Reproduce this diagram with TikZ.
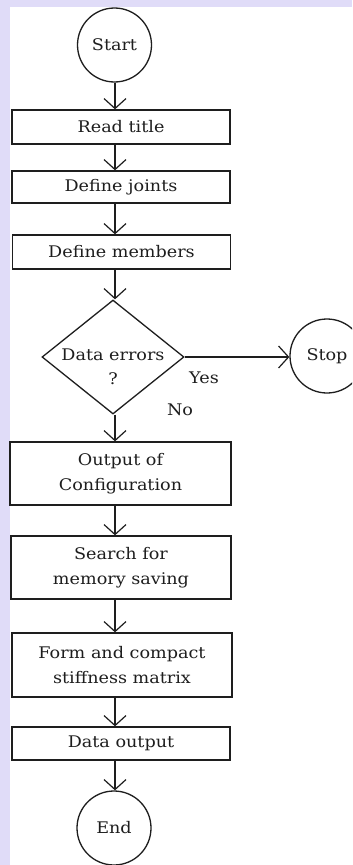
\documentclass[tikz,border=0pt]{standalone}
\usepackage{fontspec}
\setmainfont{DejaVu Serif}[FakeStretch=1.1]
\usetikzlibrary{shapes.geometric,arrows.meta}
\definecolor{bgl}{RGB}{224,220,248}
\definecolor{ink}{RGB}{30,30,30}
\newcommand\flowfont{\fontsize{16bp}{24.5bp}\selectfont}
\begin{document}
\begin{tikzpicture}[x=1bp,y=-1bp,
  box/.style={draw=ink,line width=1.3bp,fill=white,minimum width=218bp,inner sep=0pt,align=center,font=\flowfont,text=ink},
  circ/.style={draw=ink,line width=1.3bp,circle,minimum size=74bp,inner sep=0pt,font=\flowfont,text=ink},
  lbl/.style={font=\flowfont,text=ink,inner sep=0pt,align=center},
  arr/.style={draw=ink,line width=1.3bp,-{Straight Barb[length=10bp,width=22bp,line width=1.2bp]}},
  ln/.style={draw=ink,line width=1.3bp}
 ]
\useasboundingbox (0,0) rectangle (352,865);
\clip (0,0) rectangle (352,865);
\fill[bgl] (0,0) rectangle (352,865);
\fill[white] (10,7) rectangle (352,865);
\coordinate (ax) at (115,0);
\node[circ] (start) at (114.5,45) {Start};
\node[box,minimum height=34bp] (read) at (121,127) {Read title};
\node[box,minimum height=32bp] (joints) at (121,187) {Define joints};
\node[box,minimum height=34bp] (members) at (121.5,252) {Define members};
\node[ln,diamond,minimum width=142bp,minimum height=114bp,inner sep=0pt] (dec) at (113,357) {};
\node[lbl] (dectext) at (113,367) {Data errors\\?};
\node[circ] (stop) at (327,356) {Stop};
\node[lbl] (yes) at (204,378) {Yes};
\node[lbl] (no) at (180,410) {No};
\node[box,minimum width=221bp,minimum height=63bp] (conf) at (120.5,473.5) {Output of\\Configuration};
\node[box,minimum width=220bp,minimum height=63bp] (search) at (121,567.5) {Search for\\memory saving};
\node[box,minimum width=220bp,minimum height=64bp] (form) at (122,665) {Form and compact\\stiffness matrix};
\node[box,minimum height=33bp] (dout) at (121,743.5) {Data output};
\node[circ] (end) at (114,828) {End};
\draw[arr] (ax |- start.south) -- (ax |- read.north);
\draw[arr] (ax |- read.south) -- (ax |- joints.north);
\draw[arr] (ax |- joints.south) -- (ax |- members.north);
\draw[arr] (ax |- members.south) -- (ax |- dec.north);
\draw[arr] (dec.east) -- (dec.east -| stop.west);
\draw[arr] (ax |- dec.south) -- (ax |- conf.north);
\draw[arr] (ax |- conf.south) -- (ax |- search.north);
\draw[arr] (ax |- search.south) -- (ax |- form.north);
\draw[arr] (ax |- form.south) -- (ax |- dout.north);
\draw[arr] (ax |- dout.south) -- (ax |- end.north);
\end{tikzpicture}
\end{document}
